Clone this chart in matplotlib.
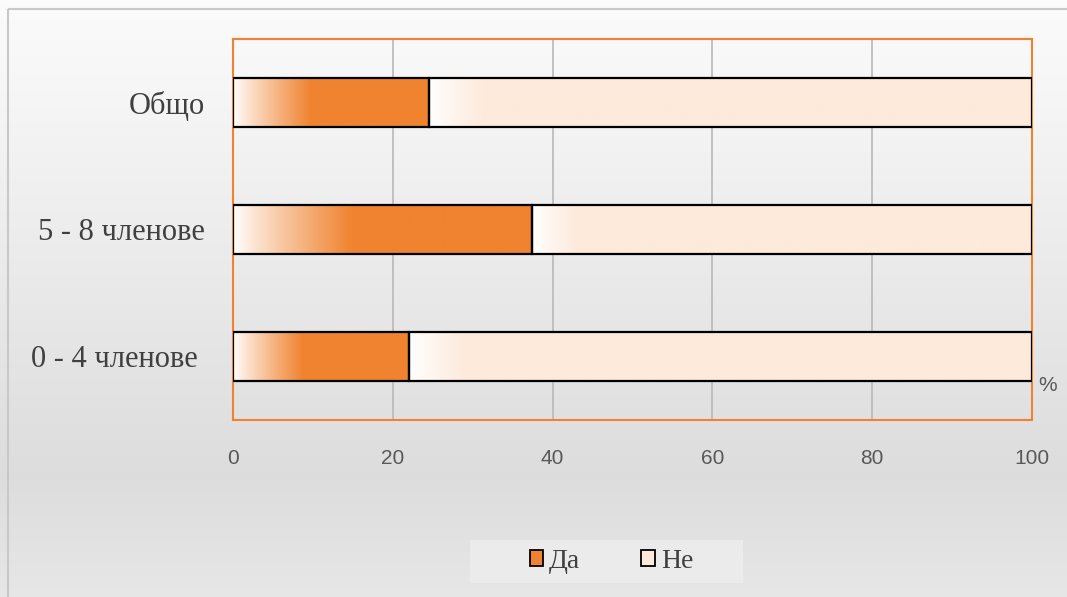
import numpy as np
import matplotlib.pyplot as plt
from matplotlib.colors import to_rgb
from matplotlib.patches import Patch, Rectangle

groups = ['0 - 4 членове ', '5 - 8 членове', 'Общо']
da = [22.0, 37.4, 24.5]
ne = [100 - v for v in da]
series_names = ['Да', 'Не']

orange = '#F0832F'
peach = '#FDEADB'


def gradient_strip(color, fade, n=300):
    # белое в начале, полный цвет после доли fade от длины
    t = np.clip(np.linspace(0, 1, n) / fade, 0, 1)
    t = t ** 0.9
    c = np.array(to_rgb(color))
    w = np.ones(3)
    return (w[None, :] * (1 - t[:, None]) + c[None, :] * t[:, None])[None, :, :]


W, H = 1067, 597
fig = plt.figure(figsize=(W / 100, H / 100), dpi=100)

# фон на цялата фигура
bg = fig.add_axes([0, 0, 1, 1], zorder=-10)
ys = np.linspace(0, 1, 200)
lvl = np.interp(ys, [0, 0.15, 0.8, 1.0], [0.985, 0.965, 0.865, 0.905])
bg.imshow(np.repeat(lvl[:, None], 2, axis=1)[:, :, None].repeat(3, axis=2),
          aspect='auto', extent=[0, 1, 1, 0])
bg.set_xlim(0, 1)
bg.set_ylim(1, 0)
bg.axis('off')
bg.add_patch(Rectangle((8 / W, 9 / H), 1.2, 1.2, fill=False,
                       edgecolor='#c8c8c8', linewidth=1.5))
# подложка на легендата
bg.add_patch(Rectangle((470 / W, 540 / H), 273 / W, 43 / H,
                       facecolor='#ebebeb', edgecolor='none'))

ax = fig.add_axes([0.2184, 0.2965, 0.7488, 0.6382])
ax.set_facecolor('none')
h = 0.39
y = np.arange(len(groups))

for i in y:
    ax.imshow(gradient_strip(orange, 0.4), aspect='auto', zorder=2,
              extent=[0, da[i], i - h / 2, i + h / 2])
    ax.imshow(gradient_strip(peach, 0.09), aspect='auto', zorder=2,
              extent=[da[i], 100, i - h / 2, i + h / 2])

ax.barh(y, da, height=h, color='none', edgecolor='black', linewidth=1.6, zorder=3)
ax.barh(y, ne, left=da, height=h, color='none', edgecolor='black', linewidth=1.6, zorder=3)

ax.set_xlim(0, 100)
ax.set_ylim(-0.5, 2.5)
ax.set_xticks([0, 20, 40, 60, 80, 100])
ax.set_yticks(y)
ax.set_yticklabels(groups, fontname='Liberation Serif', fontsize=22, color='#404040')
ax.tick_params(axis='x', labelsize=15, labelcolor='#595959', length=0, pad=21)
ax.tick_params(axis='y', length=0, pad=20)
for lab in ax.get_xticklabels():
    lab.set_fontname('Liberation Sans')
ax.grid(axis='x', color='#b8b8b8', linewidth=1.2, zorder=1)
ax.set_axisbelow(True)
for s in ax.spines.values():
    s.set_color(orange)
    s.set_linewidth(1.5)

ax.text(1.008, 0.09, '%', transform=ax.transAxes, fontname='Liberation Sans',
        fontsize=15, color='#595959', va='center', ha='left')

handles = [Patch(facecolor=orange, edgecolor='black', linewidth=1.3),
           Patch(facecolor=peach, edgecolor='black', linewidth=1.3)]
leg = fig.legend(handles, series_names, loc='center', bbox_to_anchor=(0.573, 0.059),
                 ncol=2, frameon=False, handlelength=0.5,
                 handleheight=0.5, handletextpad=0.2, columnspacing=2.2,
                 prop={'family': 'Liberation Serif', 'size': 20})
for t in leg.get_texts():
    t.set_color('#404040')

fig.savefig('out.png', dpi=100)
